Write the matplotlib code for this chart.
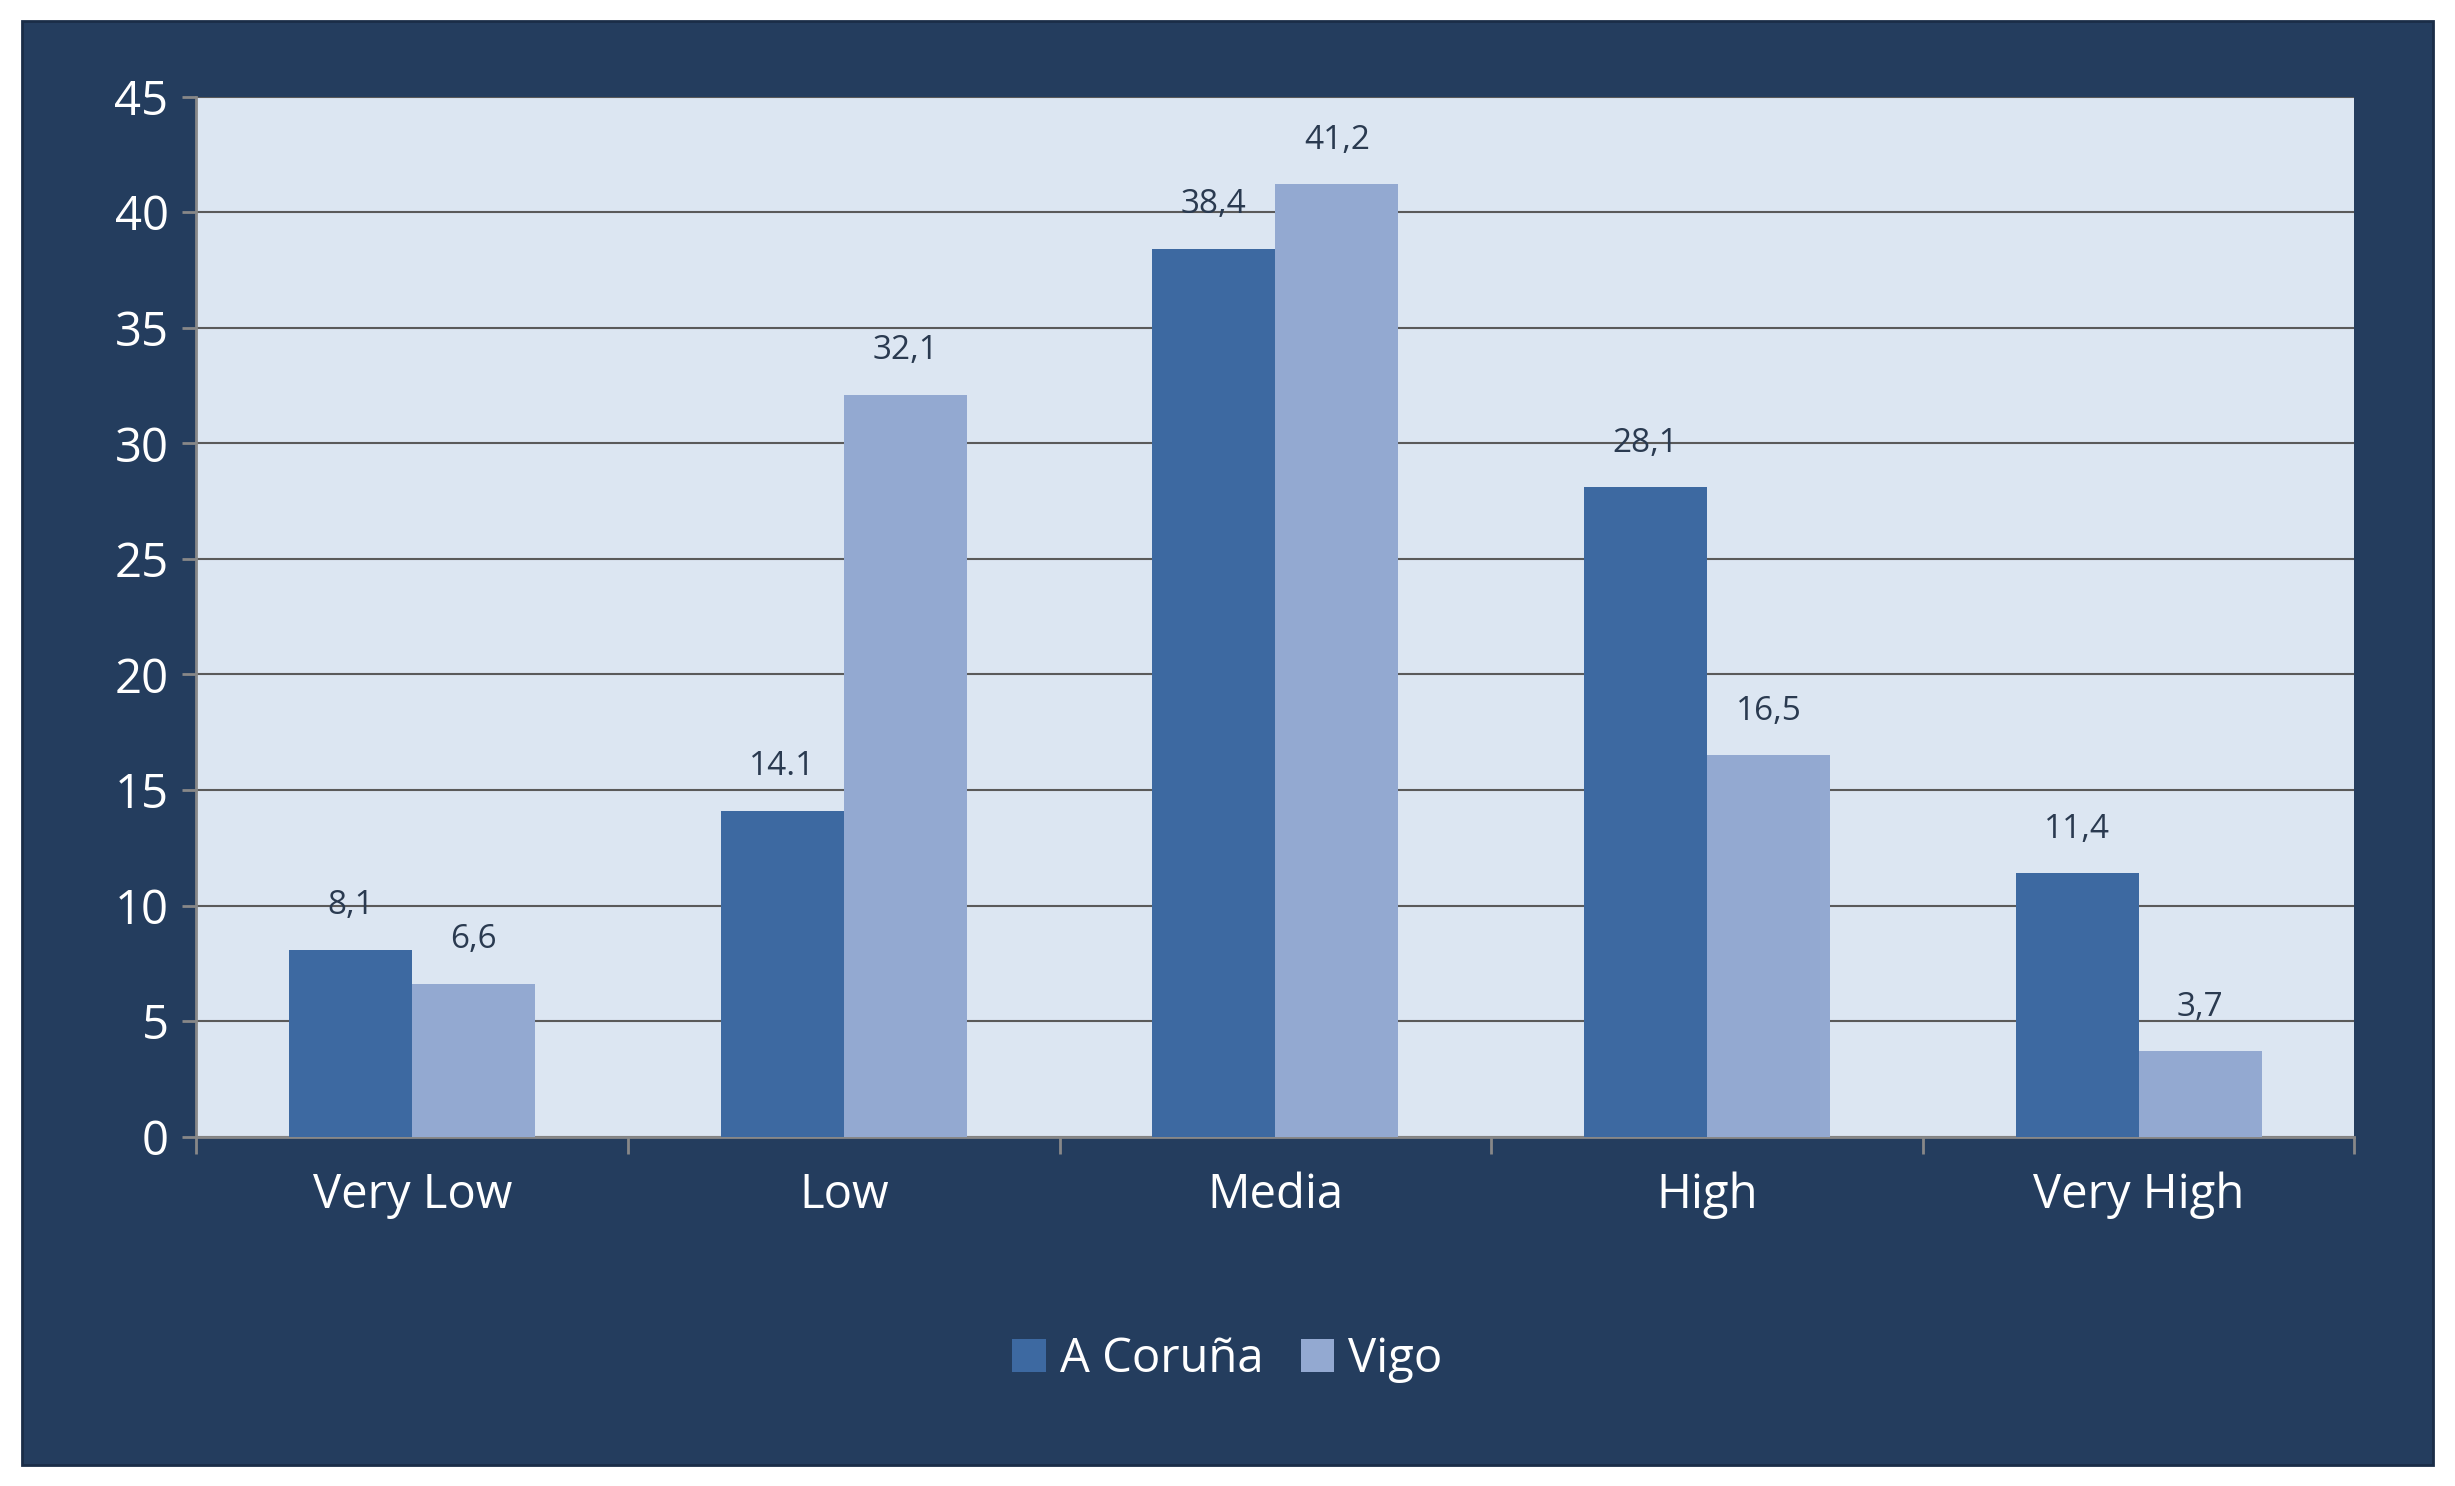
import matplotlib
matplotlib.use("Agg")
import matplotlib.pyplot as plt
import numpy as np
from matplotlib.patches import Rectangle

categories = ["Very Low", "Low", "Media", "High", "Very High"]
coruna = [8.1, 14.1, 38.4, 28.1, 11.4]
vigo = [6.6, 32.1, 41.2, 16.5, 3.7]
coruna_labels = ["8,1", "14.1", "38,4", "28,1", "11,4"]
vigo_labels = ["6,6", "32,1", "41,2", "16,5", "3,7"]
series_names = ["A Coruña", "Vigo"]

plt.rcParams['font.family'] = ['Open Sans', 'DejaVu Sans']
fig = plt.figure(figsize=(24.55, 14.86), dpi=100, facecolor="white")
navy = "#243d5e"
fig.patches.append(Rectangle((0.009, 0.014), 0.982, 0.972, transform=fig.transFigure,
                             facecolor=navy, edgecolor="#1a2d47", lw=2, zorder=-10))
ax = fig.add_axes([0.080, 0.235, 0.879, 0.700])
ax.set_facecolor("#dce6f2")
x = np.arange(len(categories))
w = 0.285
c1, c2 = "#3d69a1", "#93a9d1"
b1 = ax.bar(x - w/2, coruna, w, color=c1, label=series_names[0], zorder=3)
b2 = ax.bar(x + w/2, vigo, w, color=c2, label=series_names[1], zorder=3)
for rects, labs in ((b1, coruna_labels), (b2, vigo_labels)):
    for r, l in zip(rects, labs):
        ax.text(r.get_x() + r.get_width()/2, r.get_height() + 1.2, l, ha="center", va="bottom",
                fontsize=24, color="#2a3a50", zorder=4)
ax.set_ylim(0, 45)
ax.set_xlim(-0.5, 4.5)
ax.set_yticks(range(0, 46, 5))
ax.yaxis.grid(True, color="#5a5a5a", lw=1.5, zorder=0)
ax.set_xticks(x)
ax.set_xticklabels(categories)
ax.set_xticks(np.arange(-0.5, 5, 1), minor=True)
ax.tick_params(axis="x", which="major", length=0, pad=25, labelsize=34, colors="white")
ax.tick_params(axis="x", which="minor", length=12, color="#888888", width=2)
ax.tick_params(axis="y", length=10, color="#888888", width=2, labelsize=34, labelcolor="white", pad=10)
for s in ["top", "right"]:
    ax.spines[s].set_visible(False)
for s in ["left", "bottom"]:
    ax.spines[s].set_color("#888888")
    ax.spines[s].set_linewidth(2)
leg = fig.legend(handles=[b1, b2], loc="center", bbox_to_anchor=(0.5, 0.085), ncol=2, frameon=False,
                 fontsize=34, labelcolor="white", handlelength=0.7, handleheight=0.7,
                 handletextpad=0.3, columnspacing=0.8)
fig.savefig("out.png", dpi=100, facecolor="white")
